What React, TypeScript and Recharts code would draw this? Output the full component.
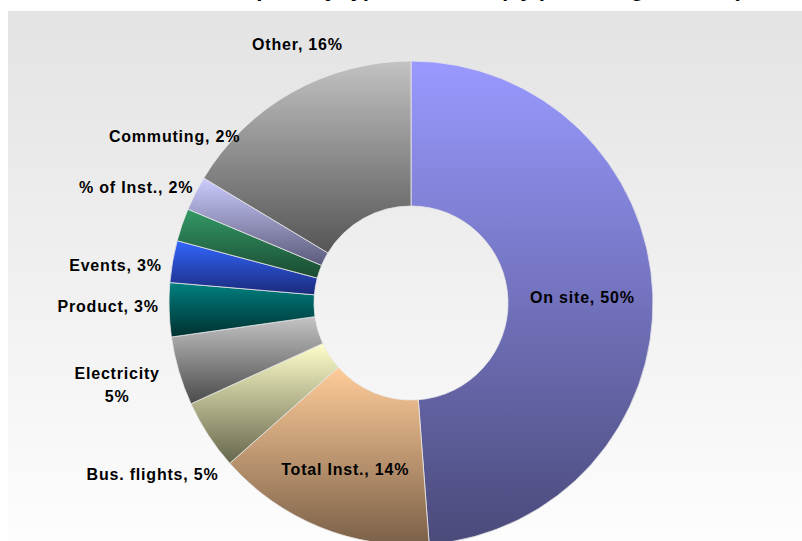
import React from 'react';
import { PieChart, Pie, Cell } from 'recharts';

// slices, clockwise from 12 o'clock
const sources = ['On site', 'Total Inst.', 'Bus. flights', 'Electricity', 'Product', 'Events', '% of Inst.', 'Commuting', 'Other'];
// share of the footprint as drawn
const shares = [48.9, 14.7, 4.7, 4.6, 3.6, 2.8, 2.2, 2.3, 16.4];
// percentages printed in the labels
const shareLabels = ['50%', '14%', '5%', '5%', '3%', '3%', '2%', '2%', '16%'];

const title = 'Breakdown of footprint by type of source (by percentage of total)';

// per-slice vertical gradient, top colour -> bottom colour
const gradTop = ['#9999ff', '#ffcc99', '#ffffcc', '#c4c4c4', '#008080', '#3366ff', '#339966', '#ccccff', '#c2c2c2'];
const gradBottom = ['#4a4a7a', '#7a6048', '#66664c', '#4a4a4a', '#003030', '#1a2a7a', '#1a4a30', '#5a5a7a', '#555555'];

// small label tweaks (Excel pushes some labels apart)
const labelNudge = [
  [2, 1], [-2, 9], [-7, 8], [-6, -3], [-3, -5], [0, 14], [9, -19], [31, -31], [34, 3],
];

const data = sources.map((name, i) => ({ name, value: shares[i], label: shareLabels[i] }));

const RAD = Math.PI / 180;
const font = { fontFamily: '"Liberation Sans", Arial, sans-serif', fontWeight: 700, fontSize: 16, letterSpacing: 0.8 };

const renderLabel = (p: any) => {
  const i = p.index;
  const inside = i < 2;
  const r = inside ? (p.innerRadius + p.outerRadius) / 2 : p.outerRadius + 58;
  const x = p.cx + r * Math.cos(-p.midAngle * RAD) + labelNudge[i][0];
  const y = p.cy + r * Math.sin(-p.midAngle * RAD) + labelNudge[i][1];
  const name = sources[i];
  if (name === 'Electricity') {
    return (
      <text x={x} y={y} textAnchor="middle" fill="#000" style={font}>
        <tspan x={x} y={y - 11} dominantBaseline="central">{name}</tspan>
        <tspan x={x} y={y + 12} dominantBaseline="central">{shareLabels[i]}</tspan>
      </text>
    );
  }
  return (
    <text x={x} y={y} textAnchor="middle" dominantBaseline="central" fill="#000" style={font}>
      {`${name}, ${shareLabels[i]}`}
    </text>
  );
};

export default function App() {
  return (
    <div style={{ position: 'absolute', left: 0, top: 0, width: 802, height: 541, overflow: 'hidden', background: '#fff' }}>
      <div
        style={{
          position: 'absolute', left: 8, top: 11, width: 794, height: 530,
          background: 'linear-gradient(to bottom, #e3e3e3 0%, #f0f0f0 50%, #fdfdfd 100%)',
        }}
      />
      {/* title sits mostly above the visible frame, as in the reference */}
      <div
        style={{
          position: 'absolute', left: 8, top: -24, width: 794, textAlign: 'center', whiteSpace: 'nowrap',
          fontFamily: '"Liberation Sans", Arial, sans-serif', fontWeight: 700, fontStyle: 'italic', fontSize: 22,
        }}
      >
        {title}
      </div>
      <div style={{ position: 'absolute', left: 0, top: 0 }}>
        <PieChart width={802} height={541} margin={{ top: 0, right: 0, bottom: 0, left: 0 }}>
          <defs>
            {sources.map((s, i) => (
              <linearGradient key={s} id={`g${i}`} x1="0" y1="0" x2="0" y2="1">
                <stop offset="0%" stopColor={gradTop[i]} />
                <stop offset="100%" stopColor={gradBottom[i]} />
              </linearGradient>
            ))}
          </defs>
          <Pie
            data={data}
            dataKey="value"
            nameKey="name"
            cx={411}
            cy={303}
            innerRadius={97}
            outerRadius={242}
            startAngle={90}
            endAngle={-270}
            stroke="#e8e8e8"
            strokeWidth={0.8}
            label={renderLabel}
            labelLine={false}
            isAnimationActive={false}
          >
            {data.map((d, i) => (
              <Cell key={d.name} fill={`url(#g${i})`} />
            ))}
          </Pie>
        </PieChart>
      </div>
    </div>
  );
}
